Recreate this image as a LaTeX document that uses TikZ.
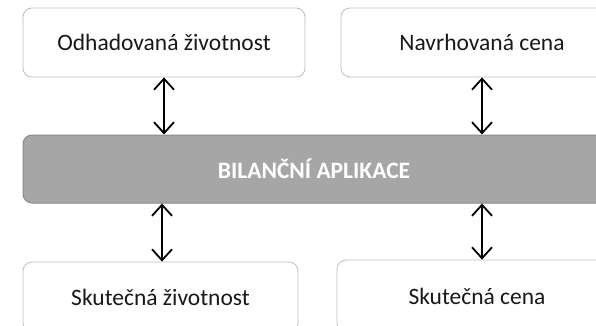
\documentclass[tikz,border=0pt]{standalone}
\usepackage{fontspec}
\setmainfont{Carlito}
\usetikzlibrary{arrows.meta}
\definecolor{boxline}{HTML}{BFBFBF}
\definecolor{barfill}{HTML}{A6A6A6}
\definecolor{barline}{HTML}{8A8A8A}
\tikzset{
  wbox/.style={draw=boxline, line width=0.8pt, fill=white, rounded corners=9pt,
    inner sep=0pt, font=\fontsize{23.5}{28}\selectfont, text=black!90},
  gbar/.style={draw=barline, line width=1pt, fill=barfill, rounded corners=9pt,
    inner sep=0pt, font=\fontsize{23.5}{28}\selectfont\bfseries, text=white},
  arr/.style={line width=1.8pt, {Straight Barb[length=11pt,width=20pt,line width=1.8pt]}-{Straight Barb[length=11pt,width=20pt,line width=1.8pt]}}
}
\begin{document}
\begin{tikzpicture}[x=1pt,y=-1pt]
\useasboundingbox (0,0) rectangle (596,326);
\clip (0,0) rectangle (596,326);
\node[wbox, minimum width=282pt, minimum height=69pt] (tl) at (164,42.5) {Odhadovaná životnost};
\node[wbox, minimum width=282pt, minimum height=69pt] (tr) at (482,42.5) {Navrhovaná cena};
\node[gbar, minimum width=582pt, minimum height=68pt] (bar) at (314,169) {BILANČNÍ APLIKACE};
\node[wbox, minimum width=275pt, minimum height=70pt] (bl) at (160.5,297) {Skutečná životnost};
\node[wbox, minimum width=280pt, minimum height=72pt] (br) at (477,296) {Skutečná cena};
\draw[arr] (tl.south) -- (tl.south |- bar.north);
\draw[arr] (tr.south) -- (tr.south |- bar.north);
\draw[arr] ([xshift=1.5pt]bl.north) -- ([xshift=1.5pt]bl.north |- bar.south);
\draw[arr] ([xshift=5pt]br.north) -- ([xshift=5pt]br.north |- bar.south);
\end{tikzpicture}
\end{document}
